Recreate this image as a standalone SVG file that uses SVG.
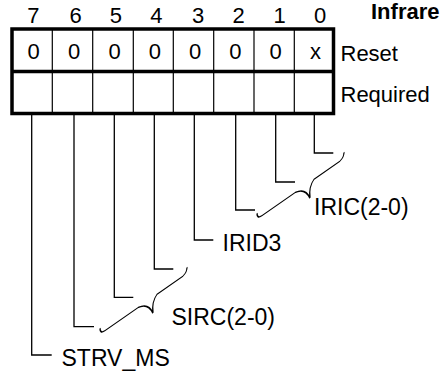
<svg xmlns="http://www.w3.org/2000/svg" width="440" height="376" viewBox="0 0 440 376">
<style>
text{font-family:"Liberation Sans",Arial,Helvetica,sans-serif;font-size:22px;fill:#000}
.c{text-anchor:middle}
.t{font-weight:bold;font-size:22px}
.lbl{font-size:23px}
.thin{stroke:#000;stroke-width:1.2;fill:none}
.thick{stroke:#000;stroke-width:3.5;fill:none}
.ln{stroke:#000;stroke-width:1.3;fill:none}
.br{stroke:#000;stroke-width:1.3;fill:none;vector-effect:non-scaling-stroke}
</style>
<defs>
<path id="brace" d="M0,-6 Q0,0 5,0 L38,0 Q48,2 53,16 Q51.5,4 57,0 L83,0 Q87,-1 87,-6"/>
</defs>
<rect width="440" height="376" fill="#fff"/>
<g id="title">
<text class="t" x="371" y="18.5">Infrare</text>
</g>
<g id="register">
<g id="bit-numbers">
<text class="c" x="33.3" y="23">7</text>
<text class="c" x="75.5" y="23">6</text>
<text class="c" x="115.8" y="23">5</text>
<text class="c" x="156.3" y="23">4</text>
<text class="c" x="198" y="23">3</text>
<text class="c" x="238.5" y="23">2</text>
<text class="c" x="279.5" y="23">1</text>
<text class="c" x="320" y="23">0</text>
</g>
<g class="thin">
<line x1="52.3" y1="29" x2="52.3" y2="113.5"/>
<line x1="92.7" y1="29" x2="92.7" y2="113.5"/>
<line x1="133.3" y1="29" x2="133.3" y2="113.5"/>
<line x1="173.3" y1="29" x2="173.3" y2="113.5"/>
<line x1="213.7" y1="29" x2="213.7" y2="113.5"/>
<line x1="254" y1="29" x2="254" y2="113.5"/>
<line x1="294.3" y1="29" x2="294.3" y2="113.5"/>
</g>
<rect class="thick" x="12" y="29" width="321.5" height="84.5"/>
<line class="thick" x1="12" y1="71.5" x2="333.5" y2="71.5" stroke-width="3.3"/>
<g id="reset-values">
<text class="c" x="33.5" y="58.5">0</text>
<text class="c" x="74" y="58.5">0</text>
<text class="c" x="114.5" y="58.5">0</text>
<text class="c" x="154.8" y="58.5">0</text>
<text class="c" x="195" y="58.5">0</text>
<text class="c" x="235.3" y="58.5">0</text>
<text class="c" x="275.7" y="58.5">0</text>
<text class="c" x="315.5" y="58.5">x</text>
</g>
<text x="340.5" y="61">Reset</text>
<text x="340.5" y="101.5">Required</text>
</g>
<g id="connectors">
<path class="ln" d="M31.7,113.5 V355 H51.7"/>
<path class="ln" d="M74,113.5 V326.7 H94"/>
<path class="ln" d="M114.3,113.5 V297.3 H133.3"/>
<path class="ln" d="M154.3,113.5 V269 H173.3"/>
<path class="ln" d="M194.3,113.5 V240 H213.3"/>
<path class="ln" d="M235.7,113.5 V210 H255"/>
<path class="ln" d="M275.7,113.5 V182 H295"/>
<path class="ln" d="M314.3,113.5 V153 H333.3"/>
<use href="#brace" class="br" transform="matrix(1,-0.7,0,1,257,219.2)"/>
<use href="#brace" class="br" transform="matrix(1,-0.7,0,1,100,334.2)"/>
</g>
<g id="label-iric"><text class="lbl" x="314" y="215">IRIC(2-0)</text></g>
<g id="label-irid3"><text class="lbl" x="222.5" y="251">IRID3</text></g>
<g id="label-sirc"><text class="lbl" x="171.5" y="325">SIRC(2-0)</text></g>
<g id="label-strv"><text class="lbl" x="61.5" y="366">STRV_MS</text></g>
</svg>
